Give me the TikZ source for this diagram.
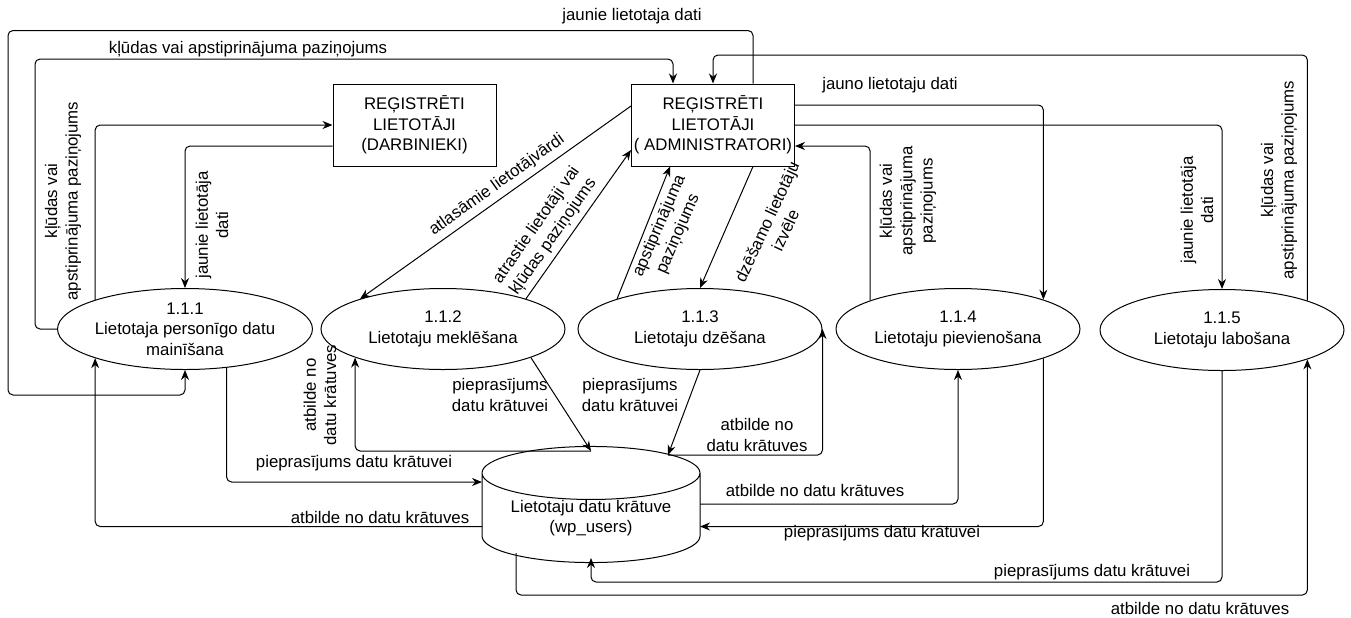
\documentclass[tikz,border=0pt]{standalone}
\usepackage{fontspec}
\setmainfont{Liberation Sans}
\usetikzlibrary{shapes.geometric,arrows.meta}

\tikzset{
    process/.style={draw, ellipse, line width=0.5pt, minimum width=122pt, minimum height=40.5pt, inner sep=0pt, align=center},
    entity/.style={draw, rectangle, line width=0.5pt, minimum width=81.5pt, minimum height=41pt, inner sep=0pt, align=center},
    store/.style={draw, cylinder, shape border rotate=90, aspect=0.33, line width=0.5pt, minimum width=109pt, minimum height=53.5pt, inner sep=0pt, align=center},
    flow/.style={-{Stealth[length=5pt,width=4pt]}, line width=0.5pt, rounded corners=2.5pt},
    lbl/.style={align=center, inner sep=0pt}
}

\begin{document}
\begin{tikzpicture}[x=0.5pt, y=-0.5pt, font=\fontsize{8.4}{10.2}\selectfont]
            \useasboundingbox (0,0) rectangle (1351,617);
            \node[entity] (darb) at (414.5,125) {REĢISTRĒTI\\LIETOTĀJI\\(DARBINIEKI)};
            \node[entity] (admin) at (713,125) {REĢISTRĒTI\\LIETOTĀJI\\( ADMINISTRATORI)};
            \node[process] (p1) at (185,329) {1.1.1\\Lietotaja personīgo datu\\mainīšana};
            \node[process] (p2) at (443,329) {1.1.2\\Lietotaju meklēšana};
            \node[process] (p3) at (700,329) {1.1.3\\Lietotaju dzēšana};
            \node[process] (p4) at (958,329) {1.1.4\\Lietotaju pievienošana};
            \node[process] (p5) at (1222,330) {1.1.5\\Lietotaju labošana};
            \node[store, anchor=shape center] (db) at (591,504.5) {Lietotaju datu krātuve\\(wp\_users)};

            \draw[flow] ([xshift=20pt]admin.north) -- ++(0,-53) -| (8,395) -| (p1.south);
            \node[lbl] (l1) at (632,16) {jaunie lietotaja dati};
            \draw[flow] (p1.west) -| (35,59) -| ([xshift=-20pt]admin.north);
            \node[lbl] (l2) at (248,49) {kļūdas vai apstiprinājuma paziņojums};
            \draw[flow] (p1.162) |- (darb.west);
            \node[lbl, rotate=90] (l3) at (63,201) {kļūdas vai\\apstiprinājuma paziņojums};
            \draw[flow] ([yshift=-10.5pt]darb.west) -| (p1.north);
            \node[lbl, rotate=90] (l4) at (212,225) {jaunie lietotāja\\dati};

            \draw[flow] ([yshift=9.5pt]admin.west) -- (p2.160);
            \node[lbl, rotate=35.5] (l5) at (497,185) {atlasāmie lietotājvārdi};
            \draw[flow] (p2.20) -- ([yshift=-12.5pt]admin.west);
            \node[lbl, rotate=55] (l6) at (545,231) {atrastie lietotāji vai\\kļūdas paziņojums};
            \draw[flow] (p3.160) -- ([xshift=-21.5pt]admin.south);
            \node[lbl, rotate=66.6] (l7) at (669,230) {apstiprinājuma\\paziņojums};
            \draw[flow] ([xshift=20pt]admin.south) -- (p3.north);
            \node[lbl, rotate=65] (l8) at (776,226) {dzēšamo lietotāju\\izvēle};

            \draw[flow] ([yshift=10pt]admin.east) -| (p4.19);
            \node[lbl] (l9) at (890,85) {jauno lietotaju dati};
            \draw[flow] (p4.162) |- ([yshift=-10.5pt]admin.east);
            \node[lbl, rotate=90] (l10) at (908,201) {kļūdas vai\\apstiprinājuma\\paziņojums};
            \draw[flow] (admin.east) -| (p5.north);
            \node[lbl, rotate=90] (l11) at (1197,210) {jaunie lietotāja\\dati};
            \draw[flow] (p5.19) |- (admin.north |- 0,55) -- (admin.north);
            \node[lbl, rotate=90] (l12) at (1279,180) {kļūdas vai\\apstiprinājuma paziņojums};

            \draw[flow] (p1.-43) |- (482,482);
            \node[lbl] (l13) at (354,463) {pieprasījums datu krātuvei};
            \draw[flow] (482,526.5) -| (p1.198);
            \node[lbl] (l14) at (380,517) {atbilde no datu krātuves};
            \draw[flow] (591,451) -| (p2.198);
            \node[lbl, rotate=90] (l15) at (320,395) {atbilde no\\datu krātuves};
            \draw[flow] (p2.-18) -- (591,451);
            \node[lbl] (l16) at (500,395) {pieprasījums\\datu krātuvei};
            \draw[flow] (p3.south) -- (668,455);
            \node[lbl] (l17) at (630,395) {pieprasījums\\datu krātuvei};
            \draw[flow] (668,455) -| (p3.east);
            \node[lbl] (l18) at (757,435) {atbilde no\\datu krātuves};
            \draw[flow] (700,504) -| (p4.south);
            \node[lbl] (l19) at (815,490) {atbilde no datu krātuves};
            \draw[flow] (p4.-19) |- (700,526.5);
            \node[lbl] (l20) at (882,533) {pieprasījums datu krātuvei};
            \draw[flow] (p5.south) |- (591,582) -- (591,558);
            \node[lbl] (l21) at (1092,572) {pieprasījums datu krātuvei};
            \draw[flow] (516,553) -- ++(0,42) -| (p5.-19);
            \node[lbl] (l22) at (1200,608) {atbilde no datu krātuves};
\end{tikzpicture}
\end{document}
